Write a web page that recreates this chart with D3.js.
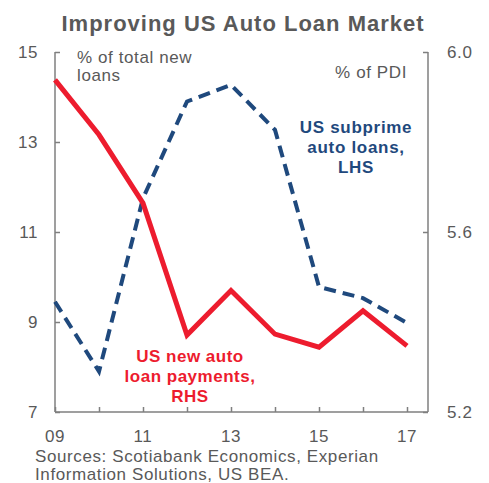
<!DOCTYPE html>
<html lang="en">
<head>
<meta charset="UTF-8">
<title>Improving US Auto Loan Market</title>
<script src="https://d3js.org/d3.v7.min.js"></script>
<style>
    body { margin: 0; background: #fff; }
    text { font-family: "Liberation Sans", Arial, sans-serif; }
</style>
</head>
<body>
<svg id="chart" width="489" height="483"></svg>
<script>
    // data
    const years = [2009, 2010, 2011, 2012, 2013, 2014, 2015, 2016, 2017];
    const subprime = [9.45, 7.9, 11.75, 13.9, 14.27, 13.27, 9.78, 9.53, 8.98];   // LHS
    const payments = [5.938, 5.816, 5.664, 5.371, 5.47, 5.373, 5.344, 5.425, 5.347]; // RHS
    const leftTicks = [7, 9, 11, 13, 15];
    const rightTicks = [5.2, 5.6, 6.0];
    const xLabels = [2009, 2011, 2013, 2015, 2017];

    const svg = d3.select("#chart");
    const grey = "#595959";
    const axisGrey = "#7f7f7f";
    const blue = "#1f497d";
    const red = "#ed1c2e";

    const x = d3.scaleLinear().domain([2009, 2017]).range([55, 407]);
    const yL = d3.scaleLinear().domain([7, 15]).range([412, 52]);
    const yR = d3.scaleLinear().domain([5.2, 6.0]).range([412, 52]);

    svg.append("text")
        .attr("x", 243).attr("y", 31)
        .attr("text-anchor", "middle")
        .attr("font-size", 22).attr("font-weight", "bold")
        .attr("letter-spacing", 1)
        .attr("fill", grey)
        .text("Improving US Auto Loan Market");

    // axes
    const left = svg.append("g").attr("transform", "translate(55,0)")
        .call(d3.axisRight(yL).tickValues(leftTicks).tickSize(5).tickFormat(""));
    const right = svg.append("g").attr("transform", "translate(428,0)")
        .call(d3.axisLeft(yR).tickValues(rightTicks).tickSize(5).tickFormat(""));
    const bottom = svg.append("g").attr("transform", "translate(0,412)")
        .call(d3.axisTop(x).tickValues(years).tickSize(5).tickFormat(""));
    [left, right, bottom].forEach(g => {
        g.selectAll("path,line").attr("stroke", axisGrey).attr("stroke-width", 1.5);
    });
    left.select(".domain").attr("d", "M0,52V412");
    right.select(".domain").attr("d", "M0,52V412");
    bottom.select(".domain").attr("d", "M55,0H428");

    const small = g => g.attr("font-size", 17).attr("letter-spacing", 0.6).attr("fill", grey);

    svg.append("g").call(small).selectAll("text").data(leftTicks).join("text")
        .attr("x", 38).attr("y", d => yL(d)).attr("dy", "0.35em")
        .attr("text-anchor", "end")
        .text(d => d);
    svg.append("g").call(small).selectAll("text").data(rightTicks).join("text")
        .attr("x", 447).attr("y", d => yR(d)).attr("dy", "0.35em")
        .text(d => d.toFixed(1));
    svg.append("g").call(small).selectAll("text").data(xLabels).join("text")
        .attr("x", d => x(d)).attr("y", 436).attr("dy", "0.35em")
        .attr("text-anchor", "middle")
        .text(d => String(d).slice(2));

    // lines
    const blueLine = d3.line().x((d, i) => x(years[i])).y(d => yL(d));
    const redLine = d3.line().x((d, i) => x(years[i])).y(d => yR(d));
    svg.append("path").datum(subprime)
        .attr("d", blueLine).attr("fill", "none")
        .attr("stroke", blue).attr("stroke-width", 4)
        .attr("stroke-dasharray", "12,7");
    svg.append("path").datum(payments)
        .attr("d", redLine).attr("fill", "none")
        .attr("stroke", red).attr("stroke-width", 5)
        .attr("stroke-linejoin", "miter");

    // unit labels
    const units = svg.append("g").call(small);
    units.append("text").attr("x", 77).attr("y", 57).attr("dy", "0.35em").text("% of total new");
    units.append("text").attr("x", 77).attr("y", 75).attr("dy", "0.35em").text("loans");
    units.append("text").attr("x", 407).attr("y", 72).attr("dy", "0.35em")
        .attr("text-anchor", "end").text("% of PDI");

    // series labels
    svg.append("g").selectAll("text").data(["US subprime", "auto loans,", "LHS"]).join("text")
        .attr("x", 356).attr("y", (d, i) => 127 + i * 20).attr("dy", "0.35em")
        .attr("text-anchor", "middle").attr("font-size", 17).attr("font-weight", "bold")
        .attr("letter-spacing", 0.7)
        .attr("fill", blue).text(d => d);
    svg.append("g").selectAll("text").data(["US new auto", "loan payments,", "RHS"]).join("text")
        .attr("x", 190).attr("y", (d, i) => 356 + i * 20).attr("dy", "0.35em")
        .attr("text-anchor", "middle").attr("font-size", 17).attr("font-weight", "bold")
        .attr("letter-spacing", 0.5)
        .attr("fill", red).text(d => d);

    // sources
    svg.append("g").call(small).selectAll("text")
        .data(["Sources: Scotiabank Economics, Experian", "Information Solutions, US BEA."]).join("text")
        .attr("x", 35).attr("y", (d, i) => 456 + i * 18).attr("dy", "0.35em")
        .text(d => d);
</script>
</body>
</html>
